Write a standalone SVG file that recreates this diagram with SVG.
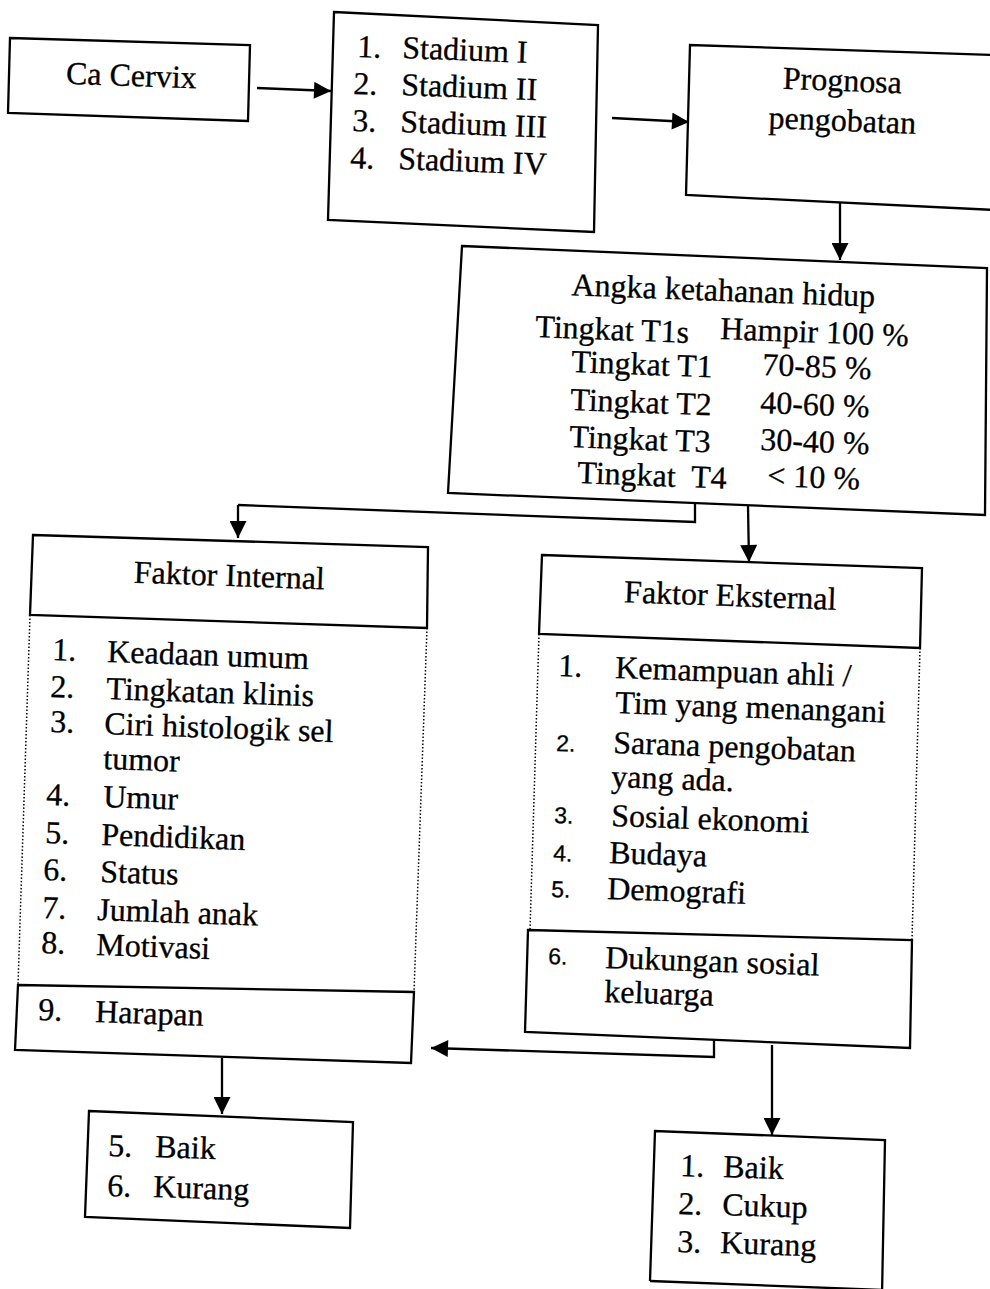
<svg xmlns="http://www.w3.org/2000/svg" width="990" height="1289" viewBox="0 0 990 1289">
<style>
  .box{fill:none;stroke:#000;stroke-width:2.3}
  .dot{fill:none;stroke:#000;stroke-width:1.5;stroke-dasharray:1.5 2}
  .con{fill:none;stroke:#000;stroke-width:2.3}
  .arr{fill:none;stroke:#000;stroke-width:2.3;marker-end:url(#ah)}
  text{font-family:"Liberation Serif","Times New Roman",serif;font-size:32px;fill:#000;stroke:#000;stroke-width:0.3}
  .c{text-anchor:middle}
  .n{font-family:"Liberation Sans",Arial,sans-serif;font-size:23px}
</style>
<defs>
  <marker id="ah" viewBox="0 0 10 10" refX="10" refY="5" markerWidth="20" markerHeight="17" markerUnits="userSpaceOnUse" orient="auto">
    <path d="M0,0 L10,5 L0,10 z" fill="#000"/>
  </marker>
</defs>
<rect width="990" height="1289" fill="#fff"/>

<g id="connectors">
  <line class="arr" x1="257" y1="88" x2="331" y2="91"/>
  <line class="arr" x1="612" y1="118" x2="689" y2="122"/>
  <line class="arr" x1="840" y1="202" x2="840" y2="260"/>
  <polyline class="con" points="695,503 695,522 238,505"/>
  <line class="arr" x1="238" y1="505" x2="238" y2="538"/>
  <line class="arr" x1="748" y1="506" x2="749" y2="562"/>
  <polyline class="arr" points="714,1040 714,1057 431,1048"/>
  <line class="arr" x1="222" y1="1058" x2="222" y2="1114"/>
  <line class="arr" x1="772" y1="1045" x2="772" y2="1135"/>
</g>

<g id="ca-cervix">
  <polygon class="box" points="10,38 250,45 248,121 8,113"/>
  <text x="131" y="86" class="c" transform="rotate(2 131 86)">Ca Cervix</text>
</g>

<g id="stadium">
  <polygon class="box" points="334,12 598,25 594,232 328,220"/>
  <text x="357" y="57" transform="rotate(2.2 357 57)">1.</text>
  <text x="402" y="58" transform="rotate(2.2 402 58)">Stadium I</text>
  <text x="353" y="94" transform="rotate(2.2 353 94)">2.</text>
  <text x="401" y="95" transform="rotate(2.2 401 95)">Stadium II</text>
  <text x="352" y="131" transform="rotate(2.2 352 131)">3.</text>
  <text x="400" y="132" transform="rotate(2.2 400 132)">Stadium III</text>
  <text x="350" y="168" transform="rotate(2.2 350 168)">4.</text>
  <text x="398" y="169" transform="rotate(2.2 398 169)">Stadium IV</text>
</g>

<g id="prognosa">
  <polyline class="box" points="995,55 690,45 686,195 995,210"/>
  <text x="842" y="91" class="c" transform="rotate(2.2 842 91)">Prognosa</text>
  <text x="842" y="131" class="c" transform="rotate(2.2 842 131)">pengobatan</text>
</g>

<g id="angka">
  <polygon class="box" points="462,246 987,268 985,515 448,493"/>
  <text x="723" y="301" class="c" transform="rotate(2.2 723 301)">Angka ketahanan hidup</text>
  <text x="535" y="337" transform="rotate(2.2 535 337)">Tingkat T1s</text>
  <text x="720" y="339" transform="rotate(2.2 720 339)">Hampir 100 %</text>
  <text x="571" y="372" transform="rotate(2.2 571 372)">Tingkat T1</text>
  <text x="762" y="375" transform="rotate(2.2 762 375)">70-85 %</text>
  <text x="570" y="410" transform="rotate(2.2 570 410)">Tingkat T2</text>
  <text x="760" y="413" transform="rotate(2.2 760 413)">40-60 %</text>
  <text x="569" y="447" transform="rotate(2.2 569 447)">Tingkat T3</text>
  <text x="760" y="450" transform="rotate(2.2 760 450)">30-40 %</text>
  <text x="577" y="483" transform="rotate(2.2 577 483)" xml:space="preserve">Tingkat  T4</text>
  <text x="767" y="486" transform="rotate(2.2 767 486)">&lt; 10 %</text>
</g>

<g id="faktor-internal">
  <polygon class="box" points="33,535 428,547 427,628 30,615"/>
  <text x="229" y="586" class="c" transform="rotate(2 229 586)">Faktor Internal</text>
  <line class="dot" x1="30" y1="615" x2="18" y2="985"/>
  <line class="dot" x1="427" y1="628" x2="414" y2="992"/>
  <text x="52" y="660" transform="rotate(2 52 660)">1.</text>
  <text x="107" y="662" transform="rotate(2 107 662)">Keadaan umum</text>
  <text x="50" y="697" transform="rotate(2 50 697)">2.</text>
  <text x="106" y="699" transform="rotate(2 106 699)">Tingkatan klinis</text>
  <text x="50" y="732" transform="rotate(2 50 732)">3.</text>
  <text x="104" y="734" transform="rotate(2 104 734)">Ciri histologik sel</text>
  <text x="103" y="769" transform="rotate(2 103 769)">tumor</text>
  <text x="46" y="805" transform="rotate(2 46 805)">4.</text>
  <text x="103" y="807" transform="rotate(2 103 807)">Umur</text>
  <text x="45" y="843" transform="rotate(2 45 843)">5.</text>
  <text x="101" y="845" transform="rotate(2 101 845)">Pendidikan</text>
  <text x="43" y="880" transform="rotate(2 43 880)">6.</text>
  <text x="100" y="882" transform="rotate(2 100 882)">Status</text>
  <text x="42" y="918" transform="rotate(2 42 918)">7.</text>
  <text x="97" y="920" transform="rotate(2 97 920)">Jumlah anak</text>
  <text x="41" y="953" transform="rotate(2 41 953)">8.</text>
  <text x="96" y="955" transform="rotate(2 96 955)">Motivasi</text>
</g>

<g id="harapan">
  <polygon class="box" points="18,985 414,992 411,1063 15,1050"/>
  <text x="38" y="1020" transform="rotate(2 38 1020)">9.</text>
  <text x="95" y="1022" transform="rotate(2 95 1022)">Harapan</text>
</g>

<g id="hasil-internal">
  <polygon class="box" points="89,1111 353,1122 350,1228 85,1217"/>
  <text x="108" y="1156" transform="rotate(2 108 1156)">5.</text>
  <text x="155" y="1157" transform="rotate(2 155 1157)">Baik</text>
  <text x="107" y="1196" transform="rotate(2 107 1196)">6.</text>
  <text x="153" y="1197" transform="rotate(2 153 1197)">Kurang</text>
</g>

<g id="faktor-eksternal">
  <polygon class="box" points="542,555 922,568 920,648 539,634"/>
  <text x="730" y="606" class="c" transform="rotate(2 730 606)">Faktor Eksternal</text>
  <line class="dot" x1="539" y1="634" x2="530" y2="930"/>
  <line class="dot" x1="920" y1="648" x2="912" y2="940"/>
  <text x="558" y="676" transform="rotate(2 558 676)">1.</text>
  <text x="615" y="678" transform="rotate(2 615 678)">Kemampuan ahli /</text>
  <text x="615" y="713" transform="rotate(2 615 713)">Tim yang menangani</text>
  <text x="556" y="751" class="n" transform="rotate(2 556 751)">2.</text>
  <text x="613" y="753" transform="rotate(2 613 753)">Sarana pengobatan</text>
  <text x="611" y="787" transform="rotate(2 611 787)">yang ada.</text>
  <text x="554" y="823" class="n" transform="rotate(2 554 823)">3.</text>
  <text x="611" y="826" transform="rotate(2 611 826)">Sosial ekonomi</text>
  <text x="553" y="861" class="n" transform="rotate(2 553 861)">4.</text>
  <text x="609" y="863" transform="rotate(2 609 863)">Budaya</text>
  <text x="551" y="897" class="n" transform="rotate(2 551 897)">5.</text>
  <text x="607" y="899" transform="rotate(2 607 899)">Demografi</text>
</g>

<g id="dukungan">
  <polygon class="box" points="528,930 912,940 910,1048 525,1032"/>
  <text x="548" y="964" class="n" transform="rotate(2 548 964)">6.</text>
  <text x="605" y="968" transform="rotate(2 605 968)">Dukungan sosial</text>
  <text x="604" y="1002" transform="rotate(2 604 1002)">keluarga</text>
</g>

<g id="hasil-eksternal">
  <polyline class="box" points="650,1281 655,1131 885,1140 882,1295"/>
  <line class="box" x1="650" y1="1281" x2="882" y2="1290"/>
  <text x="680" y="1176" transform="rotate(2 680 1176)">1.</text>
  <text x="723" y="1177" transform="rotate(2 723 1177)">Baik</text>
  <text x="678" y="1214" transform="rotate(2 678 1214)">2.</text>
  <text x="722" y="1215" transform="rotate(2 722 1215)">Cukup</text>
  <text x="677" y="1252" transform="rotate(2 677 1252)">3.</text>
  <text x="720" y="1253" transform="rotate(2 720 1253)">Kurang</text>
</g>
</svg>
